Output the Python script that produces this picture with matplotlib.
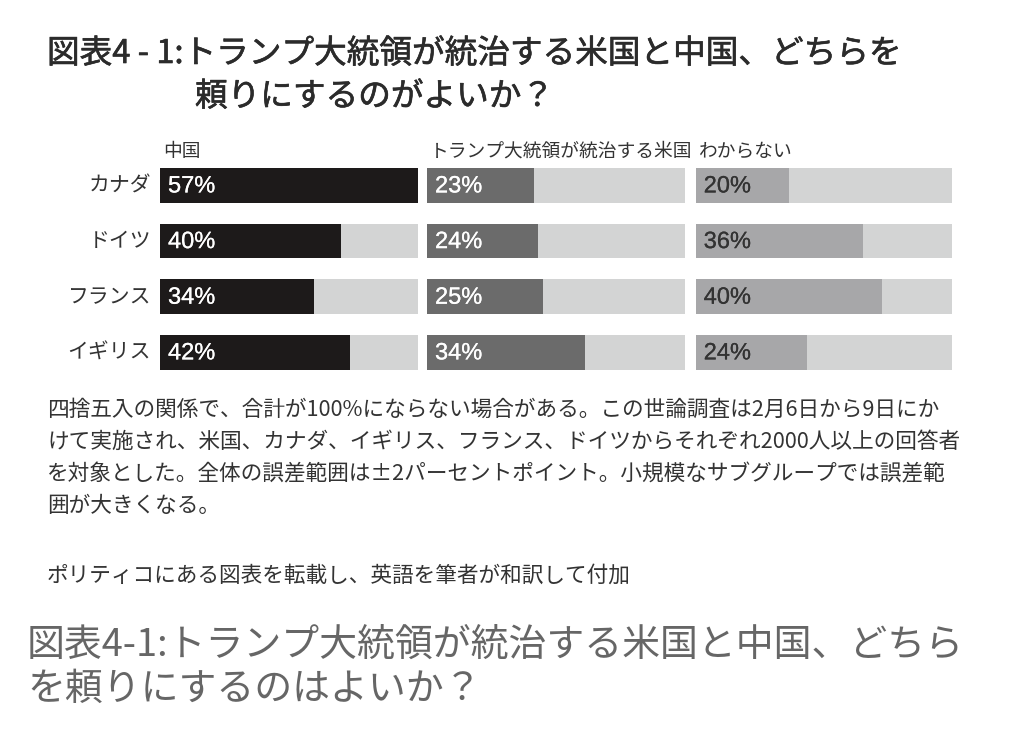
import matplotlib
matplotlib.use("Agg")
import matplotlib.pyplot as plt
import matplotlib.patheffects as pe
from matplotlib.transforms import offset_copy

plt.rcParams['font.family'] = ['Noto Sans CJK JP', 'DejaVu Sans']

# ---- data ----
countries = ["カナダ", "ドイツ", "フランス", "イギリス"]
headers = ["中国", "トランプ大統領が統治する米国", "わからない"]
china = [57, 40, 34, 42]
trump_us = [23, 24, 25, 34]
dont_know = [20, 36, 40, 24]
series = [china, trump_us, dont_know]

title_lines = ["図表4 - 1:トランプ大統領が統治する米国と中国、どちらを",
               "頼りにするのがよいか？"]
note_lines = ["四捨五入の関係で、合計が100%にならない場合がある。この世論調査は2月6日から9日にか",
              "けて実施され、米国、カナダ、イギリス、フランス、ドイツからそれぞれ2000人以上の回答者",
              "を対象とした。全体の誤差範囲は±2パーセントポイント。小規模なサブグループでは誤差範",
              "囲が大きくなる。"]
source_line = "ポリティコにある図表を転載し、英語を筆者が和訳して付加"
caption_lines = ["図表4-1:トランプ大統領が統治する米国と中国、どちら",
                 "を頼りにするのはよいか？"]

# ---- style ----
W, H = 1010, 756
fig = plt.figure(figsize=(W / 100, H / 100), dpi=100)
fig.patch.set_facecolor("white")

def fx(x):
    return x / W

def fy(y):
    return 1 - y / H

bar_colors = ["#1d1a1a", "#6b6b6b", "#a7a7a9"]
text_colors = ["white", "white", "#333333"]
bg_color = "#d3d4d4"
scale_max = [57, 55.6, 55.0]
panels = [(160, 417.7), (427, 685), (695.7, 951.7)]
top_px, bot_px = 157.6, 380.2

for k, (l, r) in enumerate(panels):
    ax = fig.add_axes([fx(l), fy(bot_px), fx(r - l), (bot_px - top_px) / H])
    ax.set_xlim(0, scale_max[k])
    ax.set_ylim(len(countries) - 0.5, -0.5)
    ax.axis("off")
    ypos = list(range(len(countries)))
    ax.barh(ypos, [scale_max[k]] * len(countries), height=0.62, color=bg_color, linewidth=0)
    ax.barh(ypos, series[k], height=0.62, color=bar_colors[k], linewidth=0)
    tr = offset_copy(ax.transData, fig=fig, x=8, y=-1, units='dots')
    for i, v in enumerate(series[k]):
        ax.text(0, i, f"{v}%", transform=tr, ha="left", va="center",
                fontsize=17, color=text_colors[k],
                family=["Liberation Sans", "DejaVu Sans"],
                path_effects=[pe.withStroke(linewidth=0.15, foreground=text_colors[k])])
    fig.text(fx(l + 3), fy(151), headers[k], ha="left", va="center",
             fontsize=13.5, color="#333333")

row_centers = [185.5, 241.5, 297.3, 352.3]
for c, yc in zip(countries, row_centers):
    fig.text(fx(151), fy(yc), c, ha="right", va="center", fontsize=15, color="#333333")

# title
title_fx = [pe.withStroke(linewidth=0.45, foreground="#2b2b2b")]
fig.text(fx(47), fy(54), title_lines[0], ha="left", va="center",
         fontsize=23.5, color="#2b2b2b", path_effects=title_fx)
fig.text(fx(195), fy(97), title_lines[1], ha="left", va="center",
         fontsize=23.5, color="#2b2b2b", path_effects=title_fx)

# notes
for j, line in enumerate(note_lines):
    fig.text(fx(47), fy(410 + 32 * j), line, ha="left", va="center",
             fontsize=15.6, color="#333333")
fig.text(fx(47), fy(576), source_line, ha="left", va="center",
         fontsize=15.6, color="#333333")

# caption
fig.text(fx(27), fy(645), caption_lines[0], ha="left", va="center",
         fontsize=27.3, color="#666666")
fig.text(fx(27), fy(689), caption_lines[1], ha="left", va="center",
         fontsize=27.3, color="#666666")

fig.savefig("out.png", dpi=100, facecolor="white")
